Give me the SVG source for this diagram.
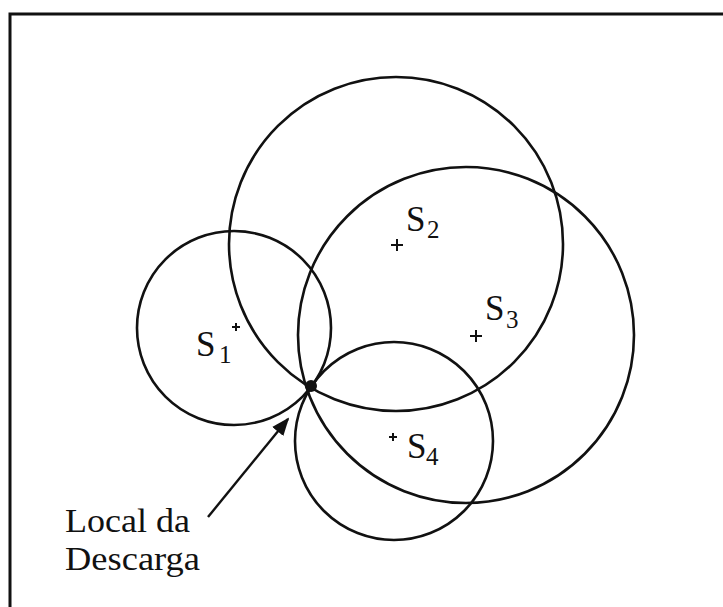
<svg xmlns="http://www.w3.org/2000/svg" width="723" height="607" viewBox="0 0 723 607">
<defs>
<style>
.c{fill:none;stroke:#111;stroke-width:2.6}
.p{stroke:#111;stroke-width:2}
.t{font-family:"Liberation Serif","Times New Roman",serif;fill:#111}
.s{font-size:35px}
.sub{font-size:25px}
</style>
<marker id="ah" viewBox="0 0 10 10" refX="9" refY="5" markerWidth="7.5" markerHeight="7.5" orient="auto" markerUnits="strokeWidth">
<path d="M0,1 L10,5 L0,9 Z" fill="#111"/>
</marker>
</defs>
<rect width="723" height="607" fill="#fff"/>
<path d="M10,607 V14 H723" fill="none" stroke="#111" stroke-width="3"/>
<g id="circles">
<circle id="c1" class="c" cx="234" cy="328" r="97"/>
<circle id="c2" class="c" cx="396" cy="244" r="167"/>
<circle id="c3" class="c" cx="466" cy="335" r="168"/>
<circle id="c4" class="c" cx="394" cy="441" r="99"/>
</g>
<g id="s1">
<path class="p" d="M232,327 h8 M236,323 v8" stroke-width="1.6"/>
<text class="t s" x="196" y="356">S</text><text class="t sub" x="219" y="363">1</text>
</g>
<g id="s2">
<path class="p" d="M391,245 h12 M397,239 v12"/>
<text class="t s" x="406" y="231">S</text><text class="t sub" x="427" y="238">2</text>
</g>
<g id="s3">
<path class="p" d="M470,336 h12 M476,330 v12"/>
<text class="t s" x="485" y="320">S</text><text class="t sub" x="506" y="328">3</text>
</g>
<g id="s4">
<path class="p" d="M389,437 h8 M393,433 v8" stroke-width="1.6"/>
<text class="t s" x="407" y="458">S</text><text class="t sub" x="426" y="465">4</text>
</g>
<g id="discharge">
<circle cx="311" cy="386" r="6" fill="#111"/>
</g>
<g id="connectors">
<line x1="208" y1="517" x2="288" y2="419" stroke="#111" stroke-width="2.4" marker-end="url(#ah)"/>
</g>
<g id="label">
<text class="t" font-size="34" x="65" y="532" textLength="125" lengthAdjust="spacingAndGlyphs">Local da</text>
<text class="t" font-size="34" x="65" y="570" textLength="135" lengthAdjust="spacingAndGlyphs">Descarga</text>
</g>
</svg>
